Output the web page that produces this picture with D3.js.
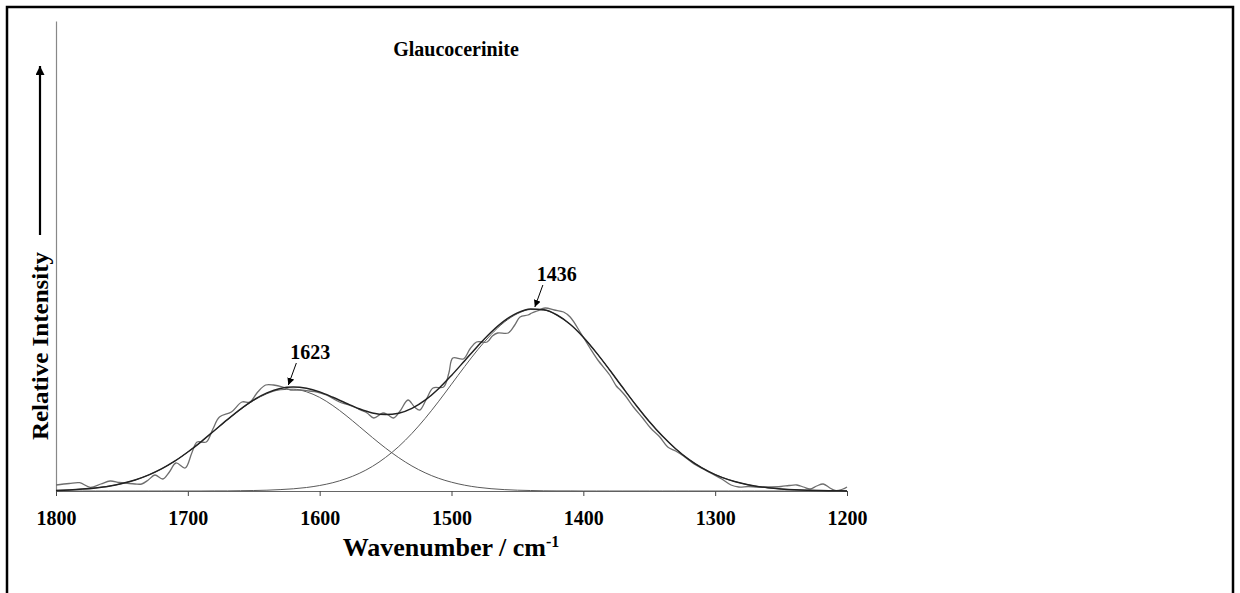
<!DOCTYPE html>
<html>
<head>
<meta charset="utf-8">
<script src="https://cdn.jsdelivr.net/npm/d3@7"></script>
<style>
  html, body { margin: 0; padding: 0; background: #fff; }
  svg { display: block; }
  text { font-family: "Liberation Serif", "Times New Roman", serif; font-weight: bold; fill: #000; }
</style>
</head>
<body>
<svg id="chart" width="1240" height="593"></svg>
<script>
// ---------------- data ----------------
const chartTitle = "Glaucocerinite";
const xTicks = [1800, 1700, 1600, 1500, 1400, 1300, 1200];

// fitted band components sampled every 10 cm-1 (1800 -> 1200)
const fitWavenumber = d3.range(1800, 1199, -10);
const band1623 = [0.006,0.011,0.019,0.031,0.048,0.074,0.110,0.159,0.221,0.298,
  0.390,0.492,0.602,0.713,0.816,0.906,0.973,1.012,1.018,0.992,
  0.936,0.854,0.755,0.646,0.535,0.429,0.333,0.250,0.182,0.128,
  0.088,0.058,0.037,0.023,0.014,0.008,0.005,0.002,0.001,0.001,
  0,0,0,0,0,0,0,0,0,0,0,0,0,0,0,0,0,0,0,0,0];
const band1436 = [0,0,0,0,0,0,0,0,0,0,
  0,0,0.001,0.001,0.003,0.005,0.008,0.014,0.022,0.035,
  0.055,0.083,0.123,0.176,0.246,0.336,0.445,0.576,0.726,0.892,
  1.068,1.245,1.414,1.565,1.688,1.773,1.815,1.810,1.759,1.666,
  1.537,1.381,1.210,1.032,0.858,0.695,0.549,0.422,0.316,0.231,
  0.164,0.114,0.077,0.050,0.032,0.020,0.012,0.007,0.004,0.002,0.001];

// observed spectrum
const obsWavenumber = [1800,1790,1782,1774,1766,1759,1752,1746,1740,1735,1730,1725,1719,1714,1709,1702,1697,1693,1686,1681,1676,1667,1659,1653,1647,1641,1635,1628,1622,1615,1608,1602,1595,1585,1578,1572,1569,1564,1559,1552,1548,1544,1539,1533,1528,1524,1519,1514,1506,1502,1499,1491,1486,1481,1473,1469,1465,1457,1452,1448,1442,1439,1435,1429,1422,1415,1410,1402,1395,1389,1380,1375,1372,1368,1362,1355,1349,1342,1336,1330,1324,1316,1309,1302,1295,1288,1282,1275,1268,1261,1250,1244,1238,1233,1228,1223,1218,1213,1209,1204,1200];
const obsIntensity = [0.06,0.075,0.083,0.037,0.07,0.10,0.085,0.077,0.07,0.07,0.11,0.16,0.12,0.19,0.28,0.23,0.38,0.49,0.49,0.62,0.74,0.79,0.89,0.89,0.99,1.06,1.06,1.04,1.01,1.01,1.00,0.99,0.96,0.89,0.86,0.83,0.81,0.78,0.73,0.78,0.76,0.73,0.80,0.91,0.84,0.81,0.92,1.03,1.04,1.18,1.33,1.32,1.42,1.49,1.49,1.55,1.58,1.58,1.66,1.74,1.76,1.78,1.80,1.83,1.81,1.79,1.74,1.58,1.43,1.31,1.16,1.05,1.01,0.95,0.84,0.73,0.63,0.54,0.44,0.40,0.35,0.27,0.22,0.17,0.12,0.06,0.04,0.045,0.04,0.04,0.045,0.055,0.06,0.04,0.02,0.05,0.07,0.03,0.005,0.015,0.04];

const peakLabels = [1623, 1436];

// ---------------- drawing ----------------
const svg = d3.select("#chart");

// outer frame
svg.append("rect").attr("x", 7).attr("y", 7).attr("width", 1226).attr("height", 600)
  .attr("fill", "none").attr("stroke", "#000").attr("stroke-width", 2.5);

const x = d3.scaleLinear().domain([1800, 1200]).range([56, 847]);
const y = d3.scaleLinear().domain([0, 4.7]).range([491, 21]);

// y axis line (no ticks)
svg.append("g").attr("transform", "translate(56,0)")
  .call(d3.axisLeft(y).tickValues([]).tickSizeOuter(0))
  .call(g => g.select(".domain").attr("stroke", "#888").attr("stroke-width", 1.2));

// x axis
const xAxis = svg.append("g").attr("transform", "translate(0,491)")
  .call(d3.axisBottom(x).tickValues(xTicks).tickFormat(d3.format("d"))
        .tickSize(5).tickSizeOuter(0).tickPadding(15));
xAxis.select(".domain").attr("stroke", "#666").attr("stroke-width", 1.2);
xAxis.selectAll(".tick line").attr("stroke", "#444");
xAxis.selectAll(".tick text").style("font-family", "'Liberation Serif', serif")
  .style("font-weight", "bold").style("font-size", "20px").attr("fill", "#000");

const composite = band1623.map((v, i) => v + band1436[i]);

const smooth = d3.line().curve(d3.curveMonotoneX);
const fitPts = arr => fitWavenumber.map((w, i) => [x(w), y(arr[i])]);

svg.append("path").attr("d", smooth(fitPts(band1623)))
  .attr("fill", "none").attr("stroke", "#5a5a5a").attr("stroke-width", 1);
svg.append("path").attr("d", smooth(fitPts(band1436)))
  .attr("fill", "none").attr("stroke", "#5a5a5a").attr("stroke-width", 1);

// observed spectrum
const obsLine = d3.line().curve(d3.curveCatmullRom.alpha(0.5));
svg.append("path").attr("d", obsLine(obsWavenumber.map((w, i) => [x(w), y(obsIntensity[i])])))
  .attr("fill", "none").attr("stroke", "#6e6e6e").attr("stroke-width", 1.3);

// composite fit
svg.append("path").attr("d", smooth(fitPts(composite)))
  .attr("fill", "none").attr("stroke", "#222").attr("stroke-width", 1.5);

// arrow marker
const defs = svg.append("defs");
defs.append("marker").attr("id", "ah").attr("viewBox", "0 0 10 10")
  .attr("refX", 10).attr("refY", 5).attr("markerWidth", 7).attr("markerHeight", 7)
  .attr("markerUnits", "userSpaceOnUse").attr("orient", "auto")
  .append("path").attr("d", "M0,0 L10,5 L0,10 z").attr("fill", "#000");
defs.append("marker").attr("id", "ahBig").attr("viewBox", "0 0 10 10")
  .attr("refX", 10).attr("refY", 5).attr("markerWidth", 10).attr("markerHeight", 9)
  .attr("markerUnits", "userSpaceOnUse").attr("orient", "auto")
  .append("path").attr("d", "M0,0 L10,5 L0,10 z").attr("fill", "#000");

// peak labels with arrows
const compAt = w => {
  const i = d3.minIndex(fitWavenumber, f => Math.abs(f - w));
  return composite[i];
};
peakLabels.forEach(w => {
  const px = x(w), py = y(compAt(w)) - 2;
  svg.append("line").attr("x1", px + 7).attr("y1", py - 22).attr("x2", px - 1).attr("y2", py)
    .attr("stroke", "#000").attr("stroke-width", 1).attr("marker-end", "url(#ah)");
  svg.append("text").attr("x", px + 21).attr("y", py - 26).attr("text-anchor", "middle")
    .style("font-size", "20px").text(String(w));
});

// title
svg.append("text").attr("x", 456).attr("y", 56).attr("text-anchor", "middle")
  .style("font-size", "20px").text(chartTitle);

// x axis title
const xt = svg.append("text").attr("x", 451).attr("y", 556).attr("text-anchor", "middle")
  .style("font-size", "26px");
xt.append("tspan").text("Wavenumber / cm");
xt.append("tspan").attr("dy", -9).style("font-size", "16px").text("-1");

// y axis title (rotated) and arrow
svg.append("text").attr("transform", "translate(48,346) rotate(-90)")
  .attr("text-anchor", "middle").style("font-size", "24px")
  .attr("textLength", 188).attr("lengthAdjust", "spacingAndGlyphs")
  .text("Relative Intensity");
svg.append("line").attr("x1", 40).attr("y1", 235).attr("x2", 40).attr("y2", 66)
  .attr("stroke", "#000").attr("stroke-width", 2.2).attr("marker-end", "url(#ahBig)");
</script>
</body>
</html>
